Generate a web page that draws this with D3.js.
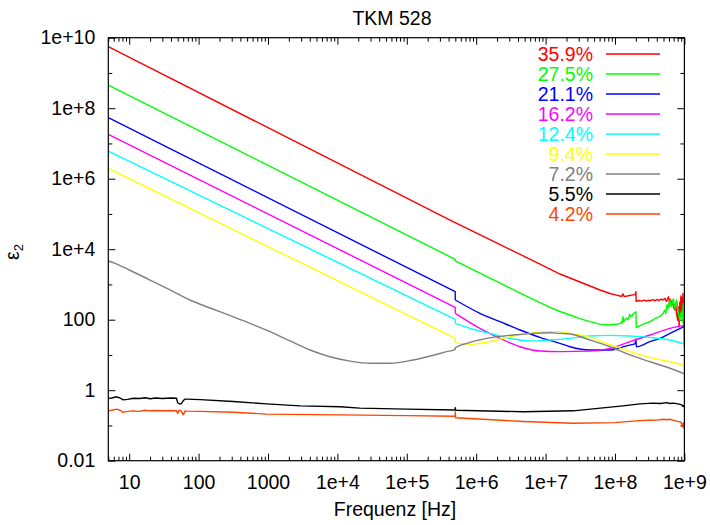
<!DOCTYPE html>
<html>
<head>
<meta charset="utf-8">
<script src="https://cdn.jsdelivr.net/npm/d3@7"></script>
<style>
  body { margin: 0; background: #fff; }
  text { font-family: "Liberation Sans", Arial, Helvetica, sans-serif; }
</style>
</head>
<body>
<svg id="chart" width="710" height="525"></svg>
<script>
// Imaginary part of the permittivity (eps2) vs. frequency, TKM 528, one curve per moisture level
const seriesLabels = ["35.9%", "27.5%", "21.1%", "16.2%", "12.4%", "9.4%", "7.2%", "5.5%", "4.2%"];

// [frequency in Hz, eps2]
const s359 = [[5,5.56e9],[1e3,2.8e7],[1e5,2.8e5],[4.2e5,6.7e4],[2e6,1.48e4],[5e6,6200],[1.16e7,2720],[1.61e7,1978],[2.25e7,1524],[3.13e7,1175],[4.36e7,905],[6.08e7,697],[8.47e7,554],[1.05e8,500],[1.18e8,470],[1.25e8,455],[1.3e8,540],[1.35e8,455],[1.5e8,470],[1.74e8,500],[1.95e8,515],[2.0e8,622],[2.02e8,330],[2.2e8,350],[2.4e8,335],[2.6e8,360],[2.8e8,340],[3.0e8,355],[3.2e8,345],[3.5e8,370],[3.8e8,345],[4.0e8,375],[4.3e8,350],[4.6e8,385],[4.9e8,360],[5.25e8,405],[5.5e8,330],[5.7e8,380],[5.9e8,450],[6.1e8,300],[6.3e8,380],[6.56e8,261],[6.8e8,350],[7.0e8,220],[7.3e8,188],[7.5e8,300],[7.7e8,150],[8.0e8,98],[8.2e8,230],[8.4e8,63],[8.6e8,320],[8.75e8,120],[8.9e8,470],[9.1e8,150],[9.25e8,420],[9.4e8,290],[9.55e8,560],[9.7e8,80],[9.85e8,300],[1e9,17]];
const s275 = [[5,4.55e8],[4.98e5,5170],[5.0e5,4700],[2e6,1200],[5e6,490],[1.16e7,224],[1.61e7,171],[2.25e7,136],[3.13e7,107],[4.37e7,88],[6e7,75],[8e7,71],[1.06e8,74],[1.2e8,79],[1.25e8,88],[1.28e8,80],[1.3e8,122],[1.34e8,90],[1.37e8,94],[1.42e8,105],[1.46e8,111],[1.53e8,100],[1.58e8,118],[1.63e8,142],[1.68e8,125],[1.74e8,122],[1.84e8,149],[1.92e8,155],[2.0e8,169],[2.03e8,60],[2.3e8,68],[2.6e8,76],[2.9e8,82],[3.19e8,88],[3.5e8,98],[3.9e8,111],[4.2e8,118],[4.45e8,122],[4.7e8,140],[4.95e8,151],[5.1e8,175],[5.25e8,188],[5.4e8,150],[5.57e8,261],[5.75e8,200],[5.9e8,290],[6.05e8,230],[6.2e8,362],[6.4e8,250],[6.56e8,233],[6.75e8,330],[6.95e8,390],[7.1e8,260],[7.3e8,206],[7.5e8,300],[7.75e8,362],[8.0e8,220],[8.2e8,151],[8.4e8,120],[8.6e8,98],[8.85e8,140],[9.1e8,169],[9.25e8,110],[9.4e8,88],[9.6e8,290],[9.8e8,130],[1e9,76]];
const s211 = [[5,5.37e7],[4.98e5,622],[5.0e5,362],[1.13e6,152],[2.2e6,88],[4.3e6,51],[8.3e6,31.6],[1.6e7,21.4],[2.25e7,17.1],[4.37e7,13.8],[8.47e7,13.8],[1.06e8,14.7],[1.3e8,17],[1.74e8,19.6],[1.95e8,21],[2.0e8,28.5],[2.03e8,17.1],[3.19e8,23.8],[4.45e8,29.6],[6.2e8,41],[7.75e8,51],[1e9,65]];
const s162 = [[5,1.82e7],[4.98e5,224],[5.0e5,152],[1.13e6,57],[2.2e6,29.6],[4.3e6,17.1],[8.3e6,12.9],[1.6e7,12.4],[4.37e7,12.8],[8.47e7,15.4],[1.64e8,23.8],[3.19e8,36.8],[6.2e8,57],[1e9,70]];
const s124 = [[5,6.1e6],[4.98e5,102],[5.0e5,79],[9.1e5,53.5],[1.77e6,38.6],[3.4e6,28.3],[5.9e6,25],[1.16e7,26.5],[2.25e7,29.6],[4.37e7,34.4],[8.47e7,36],[1.64e8,34.4],[3.19e8,31.6],[6.2e8,26.5],[1e9,20.6]];
const s94 = [[5,1.97e6],[4.98e5,29.7],[5.0e5,22.3],[6.5e5,20.6],[9e5,20.3],[1.13e6,21.4],[1.98e6,26.5],[3.42e6,34.4],[5.96e6,41],[1e7,46],[1.6e7,46],[2.25e7,41],[4.37e7,31.6],[6e7,25],[8.47e7,19.6],[1.64e8,12.4],[3.19e8,8.5],[6.2e8,6.4],[1e9,5.1]];
const s72 = [[5,4620],[6.25,3980],[10,2570],[20,1337],[38.7,697],[75,362],[146,215],[284,131],[551,79],[1070,45.7],[2075,24.9],[4030,13.8],[7820,8.9],[1.52e4,6.7],[3e4,5.8],[5.8e4,5.8],[1.24e5,7.2],[3.76e5,12.4],[4.98e5,14.4],[5.0e5,16],[7.3e5,21.4],[1.42e6,29.6],[3.42e6,36.8],[6.65e6,41],[1.16e7,42.8],[1.6e7,41],[2.25e7,39.3],[4.37e7,26.5],[8.47e7,17.1],[1.64e8,10],[3.19e8,6.4],[6.2e8,4.2],[1e9,2.9]];
const s55 = [[5,0.59],[5.6,0.6],[6.6,0.65],[7.4,0.6],[8.2,0.53],[9.5,0.55],[11.5,0.59],[14,0.58],[17,0.61],[20,0.57],[24,0.6],[30,0.58],[40,0.6],[48,0.59],[50,0.44],[53,0.41],[56,0.41],[60,0.5],[64,0.56],[67,0.56],[105,0.54],[316,0.48],[957,0.41],[2890,0.36],[1.1e4,0.34],[2.1e4,0.31],[1e5,0.29],[4.95e5,0.275],[5.0e5,0.32],[5.05e5,0.27],[4.8e6,0.245],[2.5e7,0.26],[1.3e8,0.36],[2.3e8,0.41],[3.5e8,0.43],[4.5e8,0.42],[5.6e8,0.445],[6.2e8,0.42],[7e8,0.43],[8e8,0.41],[9e8,0.39],[9.5e8,0.35],[9.8e8,0.37],[1e9,0.33]];
const s42 = [[5,0.26],[5.6,0.27],[6.6,0.29],[7.4,0.27],[8.2,0.235],[9.5,0.25],[11.5,0.26],[14,0.25],[17,0.27],[20,0.26],[25,0.265],[30,0.26],[40,0.265],[48,0.26],[50,0.22],[52,0.27],[56,0.26],[60,0.2],[64,0.26],[67,0.255],[105,0.25],[316,0.236],[957,0.21],[1.1e4,0.2],[1e5,0.19],[4.95e5,0.182],[5.0e5,0.24],[5.05e5,0.165],[4.8e6,0.13],[2.5e7,0.115],[1e8,0.12],[2e8,0.135],[3e8,0.14],[4e8,0.142],[5e8,0.15],[5.6e8,0.145],[6.2e8,0.15],[7e8,0.14],[8e8,0.13],[8.8e8,0.125],[9.2e8,0.11],[9.5e8,0.09],[9.7e8,0.12],[9.85e8,0.085],[1e9,0.1]];

const seriesData = [s359, s275, s211, s162, s124, s94, s72, s55, s42];
// frequency above which a curve is interpolated smoothly (null: point to point throughout)
const smoothFrom = [null, null, 5e5, 5e5, 5e5, 5e5, 5, null, null];

const xTickValues = [10, 100, 1e3, 1e4, 1e5, 1e6, 1e7, 1e8, 1e9];
const xTickLabels = ["10", "100", "1000", "1e+4", "1e+5", "1e+6", "1e+7", "1e+8", "1e+9"];
const yTickValues = [1e10, 1e8, 1e6, 1e4, 100, 1, 0.01];
const yTickLabels = ["1e+10", "1e+8", "1e+6", "1e+4", "100", "1", "0.01"];
const yMinorValues = [1e9, 1e7, 1e5, 1e3, 10, 0.1];

const titleText = "TKM 528";
const xTitle = "Frequenz [Hz]";

// line colours, in series order
const colors = ["#ff0000", "#00ff00", "#0000ff", "#ff00ff", "#00ffff", "#ffff00", "#808080", "#000000", "#ff4500"];

const svg = d3.select("#chart");
const plotLeft = 108.3, plotRight = 684.4, plotTop = 37.7, plotBottom = 460.7;
const fontSize = 19.5;

const x = d3.scaleLog().domain([5, 1e9]).range([plotLeft, plotRight]);
const y = d3.scaleLog().domain([0.01, 1e10]).range([plotBottom, plotTop]);

// minor x ticks at 2..9 of every decade
const xMinorValues = [];
for (let e = 0; e <= 8; e++) {
  for (let m = 2; m <= 9; m++) {
    const v = m * Math.pow(10, e);
    if (v >= 5 && v < 1e9) xMinorValues.push(v);
  }
}

const tickMajor = 7, tickMinor = 4;

function styleAxis(g) {
  g.select(".domain").remove();
  g.selectAll("line").attr("stroke", "#000").attr("stroke-width", 1);
  g.selectAll("text").attr("fill", "#000").style("font-size", fontSize + "px")
    .attr("font-family", null);
}

// bottom axis with labels
svg.append("g").attr("transform", `translate(0,${plotBottom})`)
  .call(d3.axisBottom(x).tickValues(xTickValues).tickSize(-tickMajor).tickPadding(14)
    .tickFormat((d, i) => xTickLabels[i]))
  .call(styleAxis);
svg.append("g").attr("transform", `translate(0,${plotBottom})`)
  .call(d3.axisBottom(x).tickValues(xMinorValues).tickSize(-tickMinor).tickFormat(""))
  .call(styleAxis);
// top mirror ticks
svg.append("g").attr("transform", `translate(0,${plotTop})`)
  .call(d3.axisTop(x).tickValues(xTickValues).tickSize(-tickMajor).tickFormat(""))
  .call(styleAxis);
svg.append("g").attr("transform", `translate(0,${plotTop})`)
  .call(d3.axisTop(x).tickValues(xMinorValues).tickSize(-tickMinor).tickFormat(""))
  .call(styleAxis);

// left axis with labels
svg.append("g").attr("transform", `translate(${plotLeft},0)`)
  .call(d3.axisLeft(y).tickValues(yTickValues).tickSize(-tickMajor).tickPadding(13)
    .tickFormat((d, i) => yTickLabels[i]))
  .call(styleAxis);
svg.append("g").attr("transform", `translate(${plotLeft},0)`)
  .call(d3.axisLeft(y).tickValues(yMinorValues).tickSize(-tickMinor).tickFormat(""))
  .call(styleAxis);
// right mirror ticks
svg.append("g").attr("transform", `translate(${plotRight},0)`)
  .call(d3.axisRight(y).tickValues(yTickValues).tickSize(-tickMajor).tickFormat(""))
  .call(styleAxis);
svg.append("g").attr("transform", `translate(${plotRight},0)`)
  .call(d3.axisRight(y).tickValues(yMinorValues).tickSize(-tickMinor).tickFormat(""))
  .call(styleAxis);

// clip the curves to the plot frame
svg.append("defs").append("clipPath").attr("id", "plotClip")
  .append("rect").attr("x", plotLeft).attr("y", plotTop)
  .attr("width", plotRight - plotLeft).attr("height", plotBottom - plotTop);

const straightLine = d3.line().x(d => x(d[0])).y(d => y(d[1]));
const smoothLine = d3.line().x(d => x(d[0])).y(d => y(d[1])).curve(d3.curveMonotoneX);

function curvePath(data, from) {
  if (from === null) return straightLine(data);
  const head = data.filter(d => d[0] <= from);
  const tail = data.filter(d => d[0] >= from);
  return (head.length > 1 ? straightLine(head) : "") + smoothLine(tail);
}

const curves = svg.append("g").attr("clip-path", "url(#plotClip)");
seriesData.forEach((data, i) => {
  curves.append("path")
    .attr("d", curvePath(data, smoothFrom[i]))
    .attr("fill", "none")
    .attr("stroke", colors[i])
    .attr("stroke-width", 1.4)
    .attr("stroke-linejoin", "round");
});

// frame
svg.append("rect")
  .attr("x", plotLeft).attr("y", plotTop)
  .attr("width", plotRight - plotLeft).attr("height", plotBottom - plotTop)
  .attr("fill", "none").attr("stroke", "#000").attr("stroke-width", 1.2);

// legend
const legend = svg.append("g");
seriesLabels.forEach((label, i) => {
  const ly = 54 + i * 20;
  legend.append("text")
    .attr("x", 593).attr("y", ly).attr("dy", "0.35em")
    .attr("text-anchor", "end")
    .attr("fill", colors[i])
    .style("font-size", fontSize + "px")
    .text(label);
  legend.append("line")
    .attr("x1", 606).attr("x2", 660)
    .attr("y1", ly).attr("y2", ly)
    .attr("stroke", colors[i]).attr("stroke-width", 1.4);
});

// title
svg.append("text")
  .attr("x", 392).attr("y", 24.5)
  .attr("text-anchor", "middle")
  .style("font-size", fontSize + "px")
  .text(titleText);

// x axis title
svg.append("text")
  .attr("x", 395).attr("y", 516)
  .attr("text-anchor", "middle")
  .style("font-size", fontSize + "px")
  .text(xTitle);

// y axis title: eps with subscript 2
const yTitle = svg.append("text")
  .attr("transform", "translate(18.5,252) rotate(-90)")
  .attr("text-anchor", "middle")
  .style("font-size", fontSize + "px");
yTitle.append("tspan").text("ε");
yTitle.append("tspan").attr("dy", 4.5).style("font-size", "13px").text("2");
</script>
</body>
</html>
